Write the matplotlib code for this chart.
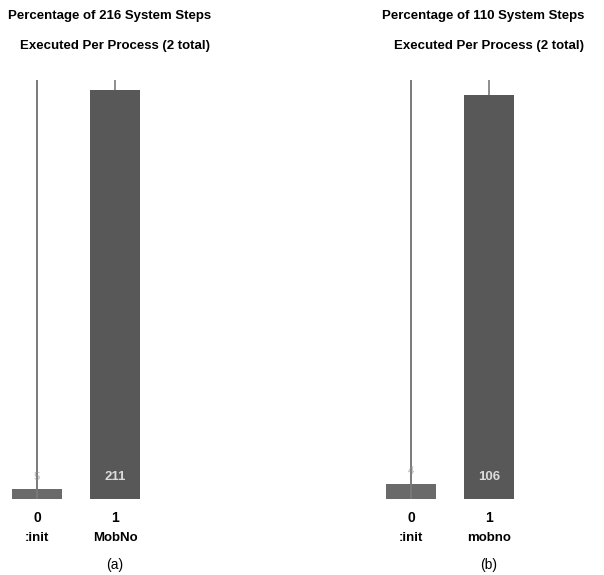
import matplotlib.pyplot as plt

plt.rcParams['font.family'] = ['Liberation Sans', 'DejaVu Sans']

# step counts per process for the two runs
procs_a = [':init', 'MobNo']
steps_a = [5, 211]
procs_b = [':init', 'mobno']
steps_b = [4, 106]
ids = [0, 1]
panels = ['(a)', '(b)']

W, H = 604, 575
fig = plt.figure(figsize=(W / 100, H / 100), dpi=100)


def panel(left_px, names, steps, tag):
    total = sum(steps)
    pct = [s / total * 100 for s in steps]
    ax = fig.add_axes([left_px / W, (H - 499) / H, 160 / W, 419 / H])
    ax.bar(ids, pct, width=0.64, color=['#6a6a6a', '#585858'], zorder=2)
    # thin line from each bar up to the 100% mark
    ax.vlines(ids, pct, 100, color='#7a7a7a', lw=1.2, zorder=1)
    ax.vlines(ids[0], 0, 100, color='#7a7a7a', lw=1.2, zorder=3)
    ax.set_xlim(-37 / 78, 123 / 78)
    ax.set_ylim(0, 100)
    ax.axis('off')

    ax.text(ids[0], pct[0] + 3, str(steps[0]), ha='center', va='center',
            fontsize=8, color='#c8c8c8', fontweight='bold', zorder=2)
    ax.text(ids[1], 5.3, str(steps[1]), ha='center', va='center',
            fontsize=9.5, color='#dcdcdc', fontweight='bold', zorder=4)

    for i, n in zip(ids, names):
        ax.text(i, -4.6, str(i), ha='center', va='center', fontsize=10,
                fontweight='bold', clip_on=False)
        ax.text(i, -9.2, n, ha='center', va='center', fontsize=9.5,
                fontweight='bold', clip_on=False)
    ax.text(ids[1], -15.8, tag, ha='center', va='center', fontsize=10,
            clip_on=False)

    ax.text(ids[1] - 0.07, 115.3, f'Percentage of {total} System Steps',
            ha='center', va='center', fontsize=9.5, fontweight='bold',
            clip_on=False)
    ax.text(ids[1], 108.1, f'Executed Per Process ({len(steps)} total)',
            ha='center', va='center', fontsize=9.5, fontweight='bold',
            clip_on=False)


panel(0, procs_a, steps_a, panels[0])
panel(374, procs_b, steps_b, panels[1])

fig.savefig('out.png', dpi=100, facecolor='white')
